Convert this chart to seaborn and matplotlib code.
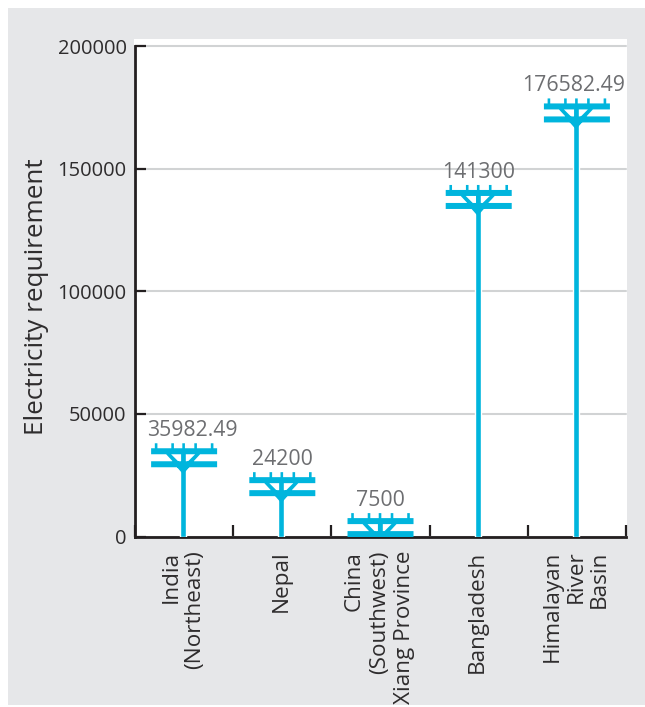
import matplotlib
matplotlib.use("Agg")
import matplotlib.pyplot as plt
import matplotlib.transforms as mtransforms
from matplotlib.patches import PathPatch, Rectangle
from matplotlib.path import Path
import pandas as pd
import seaborn as sns

categories = ["India\n(Northeast)", "Nepal", "China\n(Southwest)\nXiang Province",
              "Bangladesh", "Himalayan\nRiver\nBasin"]
requirement = [35982.49, 24200, 7500, 141300, 176582.49]
value_labels = ["35982.49", "24200", "7500", "141300", "176582.49"]
label_shift = [9, 1, 1, 1, -2]
line_gaps = [1.14, 1.0, 1.28, 1.0, 1.14]
y_ticks = [0, 50000, 100000, 150000, 200000]

POLE = "#00B5DD"
INK = "#231F20"
GRID = "#D1D3D4"
PANEL = "#E6E7E9"
LABEL = "#6D6E71"
TEXT = "#2E2C2D"


def rect(x0, y0, x1, y1):
    return [(x0, y0), (x1, y0), (x1, y1), (x0, y1)]


def pole_top():
    """Crossarms, insulators and braces of a utility pole, in pixels below its top."""
    polys = [rect(-32, 0, 34, -6), rect(-32, -13, 34, -19)]
    for dx in (-27, -10.5, 0.5, 12.5, 29):
        polys.append(rect(dx - 1.3, 0, dx + 1.3, 5))
    polys.append(rect(-1.6, -6, 1.6, -20))
    polys.append([(-17, -6), (-12, -6), (1, -19), (1, -24), (-4, -20)])
    polys.append([(17, -6), (12, -6), (-1, -19), (-1, -24), (4, -20)])
    polys.append([(-7, -18), (7, -18), (0, -26)])
    verts, codes = [], []
    for p in polys:
        # All outlines share one winding direction so that overlaps stay filled.
        area = sum(a[0] * b[1] - b[0] * a[1] for a, b in zip(p, p[1:] + p[:1]))
        p = p if area > 0 else p[::-1]
        verts += p + [p[0]]
        codes += [Path.MOVETO] + [Path.LINETO] * (len(p) - 1) + [Path.CLOSEPOLY]
    return Path(verts, codes)


sns.set_theme(style="white")
plt.rcParams["font.family"] = ["Open Sans", "DejaVu Sans"]

fig = plt.figure(figsize=(6.45, 7.07), dpi=100, facecolor="white")
fig.add_artist(Rectangle((8 / 645, 2 / 707), 637 / 645, 697 / 707, transform=fig.transFigure,
                         facecolor=PANEL, edgecolor="none", zorder=-5))
# White plot area runs a little above the top gridline.
fig.add_artist(Rectangle((134 / 645, 1 - 536.5 / 707), 492.5 / 645, 497.5 / 707,
                         transform=fig.transFigure, facecolor="white", edgecolor="none", zorder=-4))
ax = fig.add_axes([135 / 645, 1 - 536.5 / 707, 491 / 645, 490.5 / 707])
ax.patch.set_visible(False)

df = pd.DataFrame({"region": categories, "requirement": requirement})
sns.barplot(data=df, x="region", y="requirement", color=POLE, saturation=1,
            width=6 / 98.2, ax=ax, zorder=3)

ax.set_xlim(-0.49, 4.51)
ax.set_ylim(0, 200000)
ax.set_yticks(y_ticks)
ax.set_ylabel("Electricity requirement", fontsize=18.8, color=TEXT)
ax.yaxis.set_label_coords(-0.175, 0.488)
ax.set_xlabel("")
ax.grid(axis="y", color=GRID, linewidth=1.5, zorder=1, clip_on=False)
ax.set_axisbelow(True)
ax.tick_params(axis="y", direction="in", length=8, width=1.6, color=INK, left=True,
               labelsize=14.5, labelcolor=TEXT, pad=6)

# Ticks on the x axis mark the boundaries between regions, labels sit at the centres.
ax.set_xticks(range(len(categories)))
ax.set_xticklabels(categories, rotation=90, ha="center", va="top", multialignment="right",
                   fontsize=16.2, color=TEXT)
for tick_label, gap in zip(ax.get_xticklabels(), line_gaps):
    tick_label.set_linespacing(gap)
ax.tick_params(axis="x", which="major", length=0, pad=10.2, bottom=True)
ax.set_xticks([i - 0.49 for i in range(len(categories) + 1)], minor=True)
ax.tick_params(axis="x", which="minor", direction="in", length=8.5, width=1.6, color=INK, bottom=True)

for side in ("top", "right"):
    ax.spines[side].set_visible(False)
for side in ("left", "bottom"):
    ax.spines[side].set_linewidth(2)
    ax.spines[side].set_color(INK)
    ax.spines[side].set_zorder(2)

glyph = pole_top()
for i, (v, text, shift) in enumerate(zip(requirement, value_labels, label_shift)):
    place = mtransforms.ScaledTranslation(i, v, ax.transData)
    patch = PathPatch(glyph, facecolor=POLE, edgecolor="none", transform=place, zorder=4)
    ax.add_patch(patch)
    patch.set_clip_path(ax.patch)
    ax.annotate(text, (i, v), xytext=(shift, 7), textcoords="offset pixels", ha="center", va="bottom",
                fontsize=15.3, color=LABEL, zorder=5, annotation_clip=False)

fig.savefig("out.png", dpi=100, facecolor=fig.get_facecolor())
